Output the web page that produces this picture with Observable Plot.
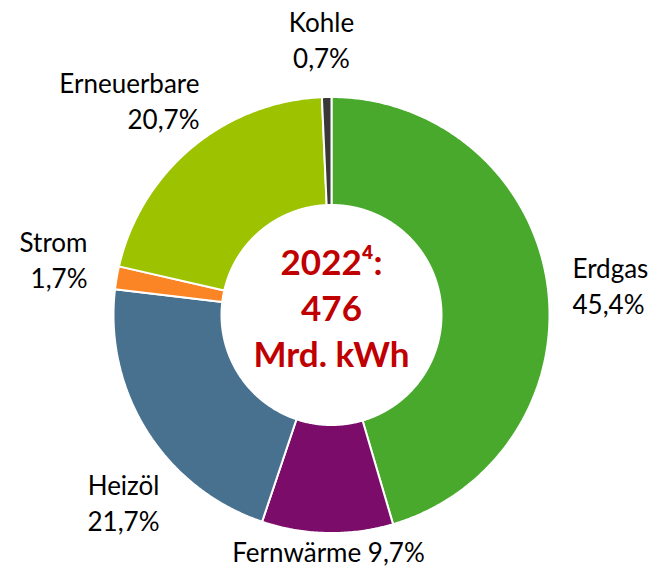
<!DOCTYPE html>
<html>
<head>
<meta charset="utf-8">
<script src="https://cdn.jsdelivr.net/npm/d3@7"></script>
<script src="https://cdn.jsdelivr.net/npm/@observablehq/plot@0.6"></script>
<style>
  html, body { margin: 0; padding: 0; background: #fff; }
  #chart svg { display: block; }
</style>
</head>
<body>
<div id="chart"></div>
<script>
// ---- data ----
const categories = ["Erdgas", "Fernwärme", "Heizöl", "Strom", "Erneuerbare", "Kohle"];
const shares = [45.4, 9.7, 21.7, 1.7, 20.7, 0.7];
const shareLabels = ["45,4%", "9,7%", "21,7%", "1,7%", "20,7%", "0,7%"];
const colors = ["#48a92c", "#7b0c6a", "#47718f", "#fb8424", "#9cc200", "#383838"];
const centerLines = ["2022⁴:", "476", "Mrd. kWh"];

// ---- layout ----
const W = 653, H = 570;
const cx = 331, cy = 314.5, rOuter = 218, rInner = 110;
// label anchor positions (x, baseline of last line, text-anchor)
const labelLayout = [
  {x: 572, y: 313, anchor: "start", oneLine: false},
  {x: 328, y: 561, anchor: "middle", oneLine: true},
  {x: 159, y: 530, anchor: "end", oneLine: false},
  {x: 87,  y: 287, anchor: "end", oneLine: false},
  {x: 199, y: 128, anchor: "end", oneLine: false},
  {x: 321, y: 67,  anchor: "middle", oneLine: false}
];

const arcs = d3.pie().sort(null).value(d => d)(shares);

function slicePolygon(a) {
  const pts = [];
  const n = Math.max(4, Math.ceil((a.endAngle - a.startAngle) / (Math.PI / 360)));
  for (let i = 0; i <= n; i++) {
    const t = a.startAngle + (a.endAngle - a.startAngle) * i / n;
    pts.push({x: cx + rOuter * Math.sin(t), y: cy - rOuter * Math.cos(t)});
  }
  for (let i = n; i >= 0; i--) {
    const t = a.startAngle + (a.endAngle - a.startAngle) * i / n;
    pts.push({x: cx + rInner * Math.sin(t), y: cy - rInner * Math.cos(t)});
  }
  return pts;
}

const sliceMarks = arcs.map((a, i) =>
  Plot.line(slicePolygon(a), {
    x: "x", y: "y",
    curve: "linear-closed",
    fill: colors[i],
    stroke: "#ffffff",
    strokeWidth: 2,
    strokeLinejoin: "miter"
  })
);

const labelData = categories.map((c, i) => ({
  text: labelLayout[i].oneLine ? `${c} ${shareLabels[i]}` : `${c}\n${shareLabels[i]}`,
  ...labelLayout[i]
}));

const labelMarks = ["start", "middle", "end"].map(anchor =>
  Plot.text(labelData.filter(d => d.anchor === anchor), {
    x: "x", y: "y", text: "text",
    textAnchor: anchor,
    lineAnchor: "bottom",
    lineHeight: 36 / 26,
    fontSize: 26,
    fill: "#000000"
  })
);

const centerMark = Plot.text([centerLines.join("\n")], {
  x: () => cx, y: () => 366,
  text: d => d,
  textAnchor: "middle",
  lineAnchor: "bottom",
  lineHeight: 46 / 35,
  fontSize: 35,
  fontWeight: "bold",
  fill: "#c00000"
});

const chart = Plot.plot({
  width: W,
  height: H,
  margin: 0,
  style: {fontFamily: "Lato, 'Open Sans', sans-serif", background: "#fff"},
  x: {domain: [0, W], range: [0, W], axis: null},
  y: {domain: [0, H], range: [0, H], axis: null},
  marks: [
    ...sliceMarks,
    ...labelMarks,
    centerMark
  ]
});

document.getElementById("chart").appendChild(chart);
</script>
</body>
</html>
